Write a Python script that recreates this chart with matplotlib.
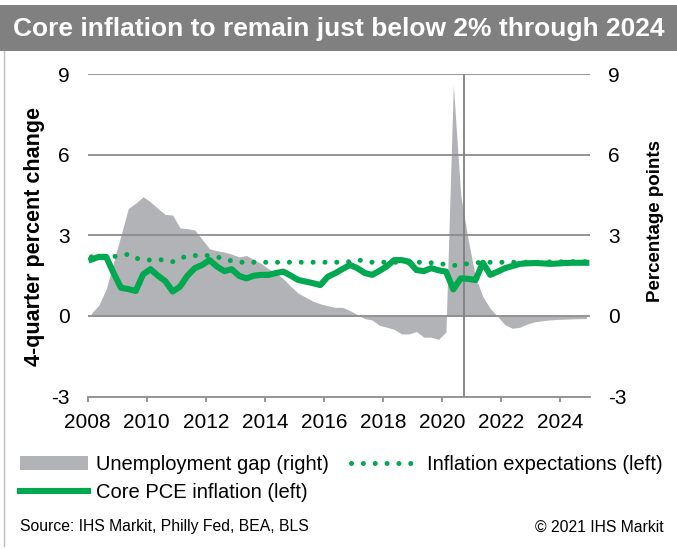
import matplotlib
matplotlib.use('Agg')
import matplotlib.pyplot as plt
from matplotlib.patches import Rectangle, Patch
from matplotlib.lines import Line2D

plt.rcParams['font.family'] = ['Liberation Sans', 'DejaVu Sans']

# ---------------- data ----------------
years = list(range(2008, 2025))
quarters = [f"{y}Q{q}" for y in years for q in (1, 2, 3, 4)]

core_pce = [
    2.10, 2.20, 2.20, 1.60,   # 2008
    1.05, 1.00, 0.93, 1.55,   # 2009
    1.74, 1.50, 1.30, 0.91,   # 2010
    1.09, 1.50, 1.78, 1.90,   # 2011
    2.08, 1.84, 1.67, 1.74,   # 2012
    1.49, 1.40, 1.50, 1.53,   # 2013
    1.53, 1.60, 1.65, 1.50,   # 2014
    1.34, 1.28, 1.22, 1.15,   # 2015
    1.46, 1.59, 1.75, 1.90,   # 2016
    1.78, 1.60, 1.53, 1.68,   # 2017
    1.85, 2.08, 2.08, 2.02,   # 2018
    1.71, 1.67, 1.78, 1.70,   # 2019
    1.65, 0.99, 1.40, 1.38,   # 2020
    1.34, 1.98, 1.53, 1.65,   # 2021
    1.78, 1.86, 1.94, 1.96,   # 2022
    1.97, 1.96, 1.94, 1.95,   # 2023
    1.97, 1.98, 1.98, 1.98,   # 2024
]

infl_exp = [
    2.20, 2.20, 2.20, 2.21,   # 2008
    2.25, 2.30, 2.15, 2.10,   # 2009
    2.08, 2.10, 2.08, 2.02,   # 2010
    2.15, 2.23, 2.25, 2.25,   # 2011
    2.25, 2.20, 2.12, 2.05,   # 2012
    2.00, 2.00, 2.00, 2.00,   # 2013
    2.00, 2.00, 2.00, 2.00,   # 2014
    2.00, 2.00, 2.00, 2.00,   # 2015
    2.00, 2.00, 2.00, 2.02,   # 2016
    2.08, 2.06, 2.00, 2.00,   # 2017
    2.00, 2.00, 2.00, 2.00,   # 2018
    2.00, 2.00, 1.98, 1.95,   # 2019
    1.92, 1.88, 1.90, 1.95,   # 2020
    1.98, 2.00, 2.00, 2.00,   # 2021
    2.00, 2.00, 2.00, 2.00,   # 2022
    2.00, 2.00, 2.01, 2.01,   # 2023
    2.02, 2.02, 2.02, 2.02,   # 2024
]

unemp_gap = [
    0.10, 0.40, 1.00, 2.00,   # 2008
    3.00, 4.00, 4.20, 4.44,   # 2009
    4.25, 4.00, 3.78, 3.76,   # 2010
    3.28, 3.25, 3.20, 2.85,   # 2011
    2.50, 2.43, 2.38, 2.30,   # 2012
    2.20, 2.25, 2.10, 1.95,   # 2013
    1.75, 1.60, 1.38, 1.10,   # 2014
    0.85, 0.70, 0.55, 0.45,   # 2015
    0.38, 0.32, 0.32, 0.20,   # 2016
    0.05, -0.10, -0.15, -0.35,  # 2017
    -0.42, -0.50, -0.67, -0.67,  # 2018
    -0.58, -0.79, -0.79, -0.87,  # 2019
    -0.60, 8.60, 4.50, 2.85,  # 2020
    1.45, 0.72, 0.28, -0.02,  # 2021
    -0.33, -0.46, -0.42, -0.30,  # 2022
    -0.22, -0.18, -0.15, -0.13,  # 2023
    -0.12, -0.11, -0.10, -0.10,  # 2024
]

x_ticks = [2008, 2010, 2012, 2014, 2016, 2018, 2020, 2022, 2024]
y_ticks = [-3, 0, 3, 6, 9]
forecast_start = 2020.75

title = "Core inflation to remain just below 2% through 2024"
left_label = "4-quarter percent change"
right_label = "Percentage points"
source = "Source: IHS Markit, Philly Fed, BEA, BLS"
copyright_txt = "\u00a9 2021 IHS Markit"

# quarter positions (mid-quarter)
xq = [int(s[:4]) + (int(s[-1]) - 0.5) / 4 for s in quarters]

# ---------------- styling ----------------
GREEN = '#00A84F'
GAPGRAY = '#B2B3B6'
GRID = '#8C8C8C'
BAR = '#808080'

W, H = 677, 549
fig = plt.figure(figsize=(W / 100, H / 100), dpi=100)


def fx(px):
    return px / W


def fy(py):
    return 1 - py / H


# title bar
fig.add_artist(Rectangle((0, fy(51)), 1, 46 / H, transform=fig.transFigure,
                         facecolor=BAR, edgecolor='none', zorder=0))
fig.text(fx(339), fy(29), title, color='white', fontsize=19, fontweight='bold',
         ha='center', va='center')
# left frame line
fig.add_artist(Line2D([fx(4), fx(4)], [fy(51), fy(546)], transform=fig.transFigure,
                      color='#BFBFBF', lw=1))

ax_left, ax_right = 87.7, 590.0
ax_top, ax_bot = 74.3, 396.5
ax = fig.add_axes([fx(ax_left), fy(ax_bot), (ax_right - ax_left) / W, (ax_bot - ax_top) / H])
ax2 = ax.twinx()
ax.set_zorder(2)
ax2.set_zorder(1)
ax.patch.set_visible(False)

# unemployment gap area (right axis)
ax2.fill_between(xq, 0, unemp_gap, color=GAPGRAY, lw=0)

# lines (left axis)
ax.plot(xq, infl_exp, color=GREEN, lw=3.6, linestyle=(0, (0.01, 2.36)),
        dash_capstyle='round', zorder=3)
ax.plot(xq, core_pce, color=GREEN, lw=4.4, solid_joinstyle='round', zorder=4)
ax.axvline(forecast_start, color='#808080', lw=1.3, zorder=1)

for a in (ax, ax2):
    a.set_xlim(2008, 2025)
    a.set_ylim(-3, 9)
    a.set_yticks(y_ticks)
    for s in ('top', 'left', 'right', 'bottom'):
        a.spines[s].set_visible(False)

ax.spines['bottom'].set_visible(True)
ax.spines['bottom'].set_color(GRID)
ax.spines['bottom'].set_linewidth(1.3)

ax.set_axisbelow(True)
ax.yaxis.grid(True, color=GRID, lw=1.3)
ax.set_xticks(x_ticks)
ax.set_xticklabels([str(t) for t in x_ticks])
ax.tick_params(axis='x', direction='out', length=3.6, width=1.3, color=GRID,
               labelsize=15, pad=8)
ax.tick_params(axis='y', length=0, labelsize=15, pad=13)
ax2.tick_params(axis='y', length=0, labelsize=15, pad=13)
ax.set_yticklabels([str(t) for t in y_ticks])
ax2.set_yticklabels([str(t) for t in y_ticks])
# hide the -3 gridline (axis line there)
ax.yaxis.get_gridlines()[0].set_visible(False)

fig.text(fx(35), fy(236), left_label, rotation=90, fontsize=15.5, fontweight='bold',
         ha='center', va='center')
fig.text(fx(655), fy(221), right_label, rotation=90, fontsize=13.5, fontweight='bold',
         ha='center', va='center')

# legend
h_gap = Patch(facecolor=GAPGRAY, edgecolor='none', label='Unemployment gap (right)')
h_core = Line2D([], [], color=GREEN, lw=4.4, label='Core PCE inflation (left)')
h_exp = Line2D([], [], color=GREEN, lw=3.6, linestyle=(0, (0.01, 2.36)),
               dash_capstyle='round', label='Inflation expectations (left)')
fig.legend(handles=[h_gap, h_core, h_exp], ncol=2, loc='upper left',
           bbox_to_anchor=(fx(20), fy(455)), frameon=False, fontsize=14.5,
           borderaxespad=0, borderpad=0, handlelength=3.38, handletextpad=0.4,
           columnspacing=1.1, labelspacing=0.45, handleheight=0.7)

fig.text(fx(20), fy(527), source, fontsize=11.3, ha='left', va='center')
fig.text(fx(664), fy(527), copyright_txt, fontsize=11.3, ha='right', va='center')

fig.savefig('out.png', dpi=100)
